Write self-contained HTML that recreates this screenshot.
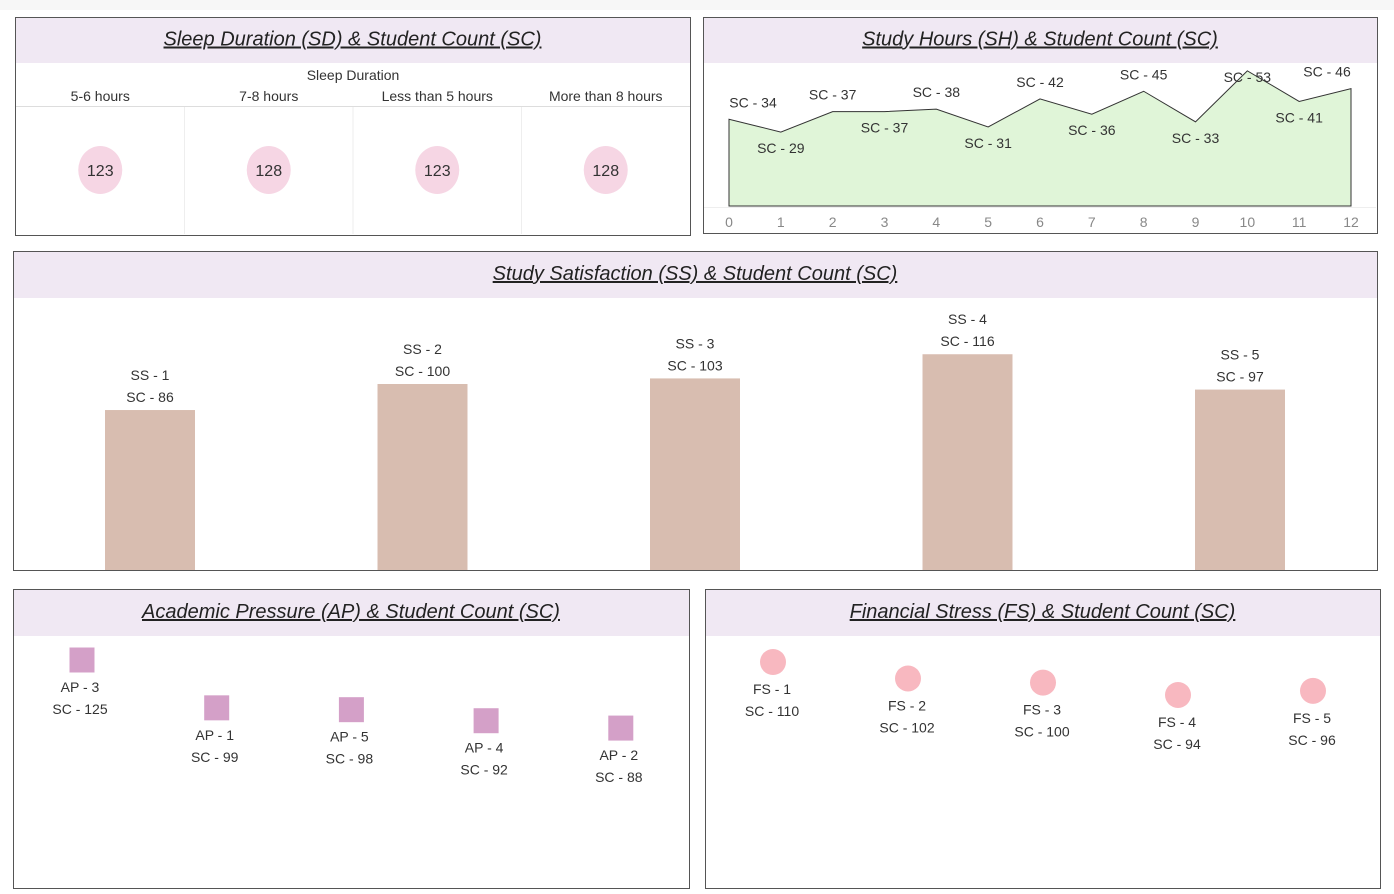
<!DOCTYPE html>
<html><head><meta charset="utf-8">
<style>
body{margin:0;background:#fff;width:1394px;height:889px;overflow:hidden;font-family:"Liberation Sans",sans-serif}
svg text{font-family:"Liberation Sans",sans-serif;fill:#333}
.t{font-size:20px;font-style:italic;text-decoration:underline;fill:#222}
.l{font-size:14px}
</style></head><body>
<svg id="s" width="1394" height="889" xmlns="http://www.w3.org/2000/svg">
<rect x="0" y="0" width="1394" height="10" fill="#f7f7f7"/>
</svg>
<script>
const sdCats=["5-6 hours","7-8 hours","Less than 5 hours","More than 8 hours"];
const sdVals=[123,128,123,128];
const shHours=[0,1,2,3,4,5,6,7,8,9,10,11,12];
const shVals=[34,29,37,37,38,31,42,36,45,33,53,41,46];
const shAbove=[1,0,1,0,1,0,1,0,1,0,2,0,1];
const ssCats=["SS - 1","SS - 2","SS - 3","SS - 4","SS - 5"];
const ssVals=[86,100,103,116,97];
const apCats=["AP - 3","AP - 1","AP - 5","AP - 4","AP - 2"];
const apVals=[125,99,98,92,88];
const fsCats=["FS - 1","FS - 2","FS - 3","FS - 4","FS - 5"];
const fsVals=[110,102,100,94,96];

const S=document.getElementById('s');const NS="http://www.w3.org/2000/svg";
function mk(tag,attrs,txt){const e=document.createElementNS(NS,tag);for(const k in attrs)e.setAttribute(k,attrs[k]);if(txt!==undefined)e.textContent=txt;S.appendChild(e);return e;}
function panel(x,y,w,h,hh,title,name){
  const r=mk('rect',{x:x+.5,y:y+.5,width:w,height:h,fill:'#fff',stroke:'#555','stroke-width':1});
  
  
  const b=mk('rect',{x:x+1,y:y+1,width:w-1,height:hh,fill:'#f0e8f3'});
  
  
  const t=mk('text',{x:x+w/2,y:y+hh/2+6,'text-anchor':'middle',class:'t'},title);
  
  
}
// Sleep duration
panel(15,17,675,218,45,"Sleep Duration (SD) & Student Count (SC)","sleep");
let e=mk('text',{x:353,y:80,'text-anchor':'middle',class:'l'},"Sleep Duration");


mk('line',{x1:16,y1:106.5,x2:690,y2:106.5,stroke:'#ddd'});
const colW=168.5;
sdCats.forEach((c,i)=>{
  const cx=16+colW*i+colW/2;
  const h=mk('text',{x:cx,y:101,'text-anchor':'middle',class:'l'},c);
  
  
  if(i>0)mk('line',{x1:16+colW*i,y1:107,x2:16+colW*i,y2:234,stroke:'#eee'});
  const el=mk('ellipse',{cx:cx,cy:170,rx:22,ry:24,fill:'#f6d6e4'});
  
  
  const v=mk('text',{x:cx,y:176,'text-anchor':'middle',style:'font-size:16px'},sdVals[i]);
  
  
});
// Study hours area
panel(703,17,674,216,45,"Study Hours (SH) & Student Count (SC)","study-hours");
const hx=h=>729+h*(1351-729)/12, hy=v=>206-v*2.55;
let d=`M${hx(shHours[0])},${hy(0)} `+shHours.map((h,i)=>`L${hx(h)},${hy(shVals[i])}`).join(' ')+` L${hx(shHours[12])},${hy(0)} Z`;
e=mk('path',{d:d,fill:'#e0f5d8',stroke:'#333','stroke-width':1});


mk('line',{x1:704,y1:207.5,x2:1376,y2:207.5,stroke:'#eee'});
shHours.forEach((h,i)=>{
  const t=mk('text',{x:hx(h),y:227,'text-anchor':'middle',style:'font-size:14px;fill:#888'},h);
  
  
  const y=hy(shVals[i]);
  const off=shAbove[i]==1?-12:shAbove[i]==2?11:21;
  const lb=mk('text',{x:hx(h)+(i==0?24:i==12?-24:0),y:y+off,'text-anchor':'middle',class:'l'},"SC - "+shVals[i]);
  
  
});
// Study satisfaction bars
panel(13,251,1364,319,46,"Study Satisfaction (SS) & Student Count (SC)","satisfaction");
const bx=i=>150+i*272.5, by=v=>570-v*1.86;
ssCats.forEach((c,i)=>{
  const b=mk('rect',{x:bx(i)-45,y:by(ssVals[i]),width:90,height:570-by(ssVals[i]),fill:'#d8bdb0'});
  
  
  const t1=mk('text',{x:bx(i),y:by(ssVals[i])-30,'text-anchor':'middle',class:'l'},c);
  
  
  const t2=mk('text',{x:bx(i),y:by(ssVals[i])-8,'text-anchor':'middle',class:'l'},"SC - "+ssVals[i]);
  
  
});
// Academic pressure
panel(13,589,676,299,46,"Academic Pressure (AP) & Student Count (SC)","pressure");
const ax=i=>82+i*134.7, ay=v=>660+(125-v)*1.84;
apCats.forEach((c,i)=>{
  const y=ay(apVals[i]);
  const r=mk('rect',{x:ax(i)-12.5,y:y-12.5,width:25,height:25,fill:'#d4a0c8'});
  
  
  const t1=mk('text',{x:ax(i)-2,y:y+32,'text-anchor':'middle',class:'l'},c);
  
  
  const t2=mk('text',{x:ax(i)-2,y:y+54,'text-anchor':'middle',class:'l'},"SC - "+apVals[i]);
  
  
});
// Financial stress
panel(705,589,675,299,46,"Financial Stress (FS) & Student Count (SC)","financial");
const fx=i=>773+i*135, fy=v=>662+(110-v)*2.06;
fsCats.forEach((c,i)=>{
  const y=fy(fsVals[i]);
  const ci=mk('circle',{cx:fx(i),cy:y,r:13,fill:'#f8b8c0'});
  
  
  const t1=mk('text',{x:fx(i)-1,y:y+32,'text-anchor':'middle',class:'l'},c);
  
  
  const t2=mk('text',{x:fx(i)-1,y:y+54,'text-anchor':'middle',class:'l'},"SC - "+fsVals[i]);
  
  
});
</script>
</body></html>
